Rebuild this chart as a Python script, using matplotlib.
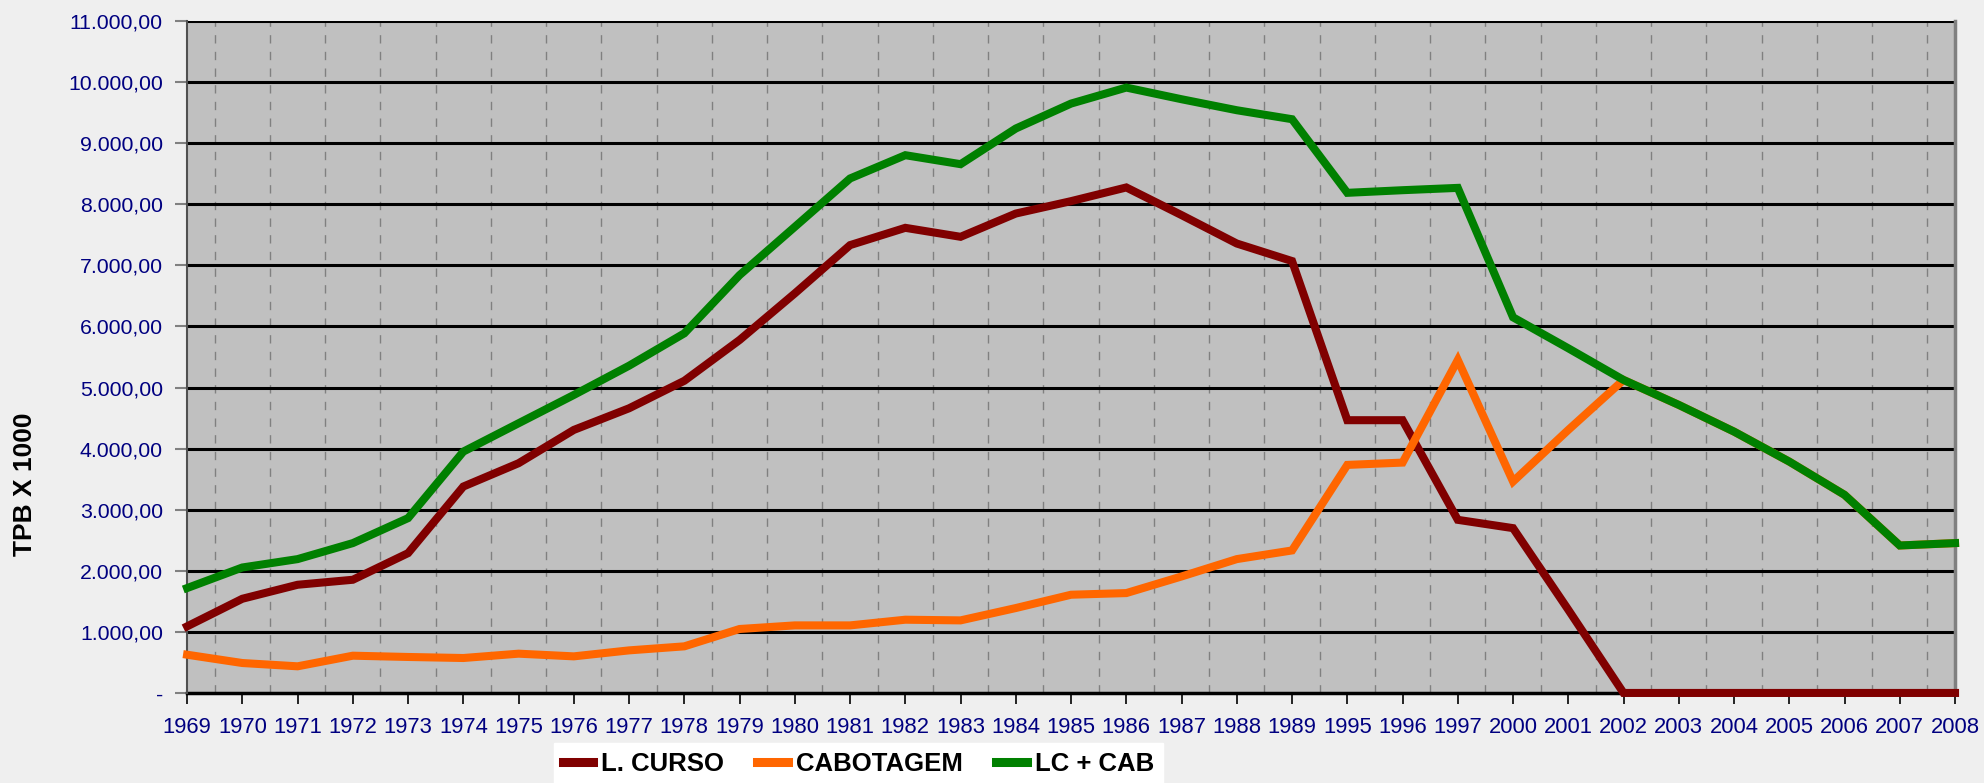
import numpy as np
from matplotlib import pyplot as plt
from matplotlib.ticker import FuncFormatter

years = ["1969", "1970", "1971", "1972", "1973", "1974", "1975", "1976", "1977",
         "1978", "1979", "1980", "1981", "1982", "1983", "1984", "1985", "1986",
         "1987", "1988", "1989", "1995", "1996", "1997", "2000", "2001", "2002",
         "2003", "2004", "2005", "2006", "2007", "2008"]

longo_curso = [1090, 1542, 1771, 1853, 2289, 3379, 3761, 4306, 4660,
               5110, 5778, 6541, 7331, 7614, 7467, 7848, 8051, 8275,
               7822, 7357, 7070, 4465, 4465, 2834, 2698, 1362, 0,
               0, 0, 0, 0, 0, 0]

cabotagem = [626, 490, 436, 610, 589, 572, 643, 599, 697,
             763, 1047, 1106, 1106, 1199, 1188, 1390, 1608, 1635,
             1907, 2191, 2333, 3733, 3771, 5451, 3461, 4306, 5124,
             4715, 4278, 3787, 3243, 2414, 2453]

lc_cab = [1717, 2054, 2191, 2453, 2862, 3951, 4415, 4878, 5357,
          5887, 6840, 7630, 8422, 8803, 8656, 9240, 9648, 9910,
          9719, 9539, 9392, 8187, 8230, 8268, 6149, 5642, 5124,
          4715, 4278, 3787, 3243, 2414, 2453]

series = [("L. CURSO", longo_curso, "#800000"),
          ("CABOTAGEM", cabotagem, "#ff6600"),
          ("LC + CAB", lc_cab, "#008000")]

plt.rcParams['font.family'] = ['Liberation Sans', 'DejaVu Sans']

fig = plt.figure(figsize=(19.84, 7.83), dpi=100)
fig.patch.set_facecolor("#efefef")
ax = fig.add_axes([0.0943, 0.115, 0.8911, 0.8582])
ax.set_facecolor("#c0c0c0")

x = np.arange(len(years))
for name, vals, col in series:
    ax.plot(x, vals, color=col, lw=5.8, label=name, solid_joinstyle="miter",
            clip_on=False, zorder=3)

ax.set_xlim(0, len(years) - 1)
ax.set_ylim(0, 11000)
ax.set_yticks(np.arange(0, 11001, 1000))
ax.set_xticks(x)
ax.set_xticklabels(years)


def fmt(v, pos):
    if v == 0:
        return "-"
    s = f"{v:,.2f}"
    return s.replace(",", "X").replace(".", ",").replace("X", ".")


ax.yaxis.set_major_formatter(FuncFormatter(fmt))

# gridlines: solid black horizontals, dashed grey verticals between categories
for v in np.arange(1000, 11001, 1000):
    ax.axhline(v, color="black", lw=2.2, zorder=2)
ax.axhline(0, color="black", lw=2.5, zorder=2, clip_on=False)
for xm in x[:-1] + 0.5:
    ax.axvline(xm, color="#808080", lw=1.0, ls=(0, (6, 6)), zorder=1)

ax.tick_params(axis="x", colors="black", labelcolor="#000080", labelsize=15.8,
               length=8, width=1.2, pad=9, direction="out")
ax.tick_params(axis="y", colors="#808080", labelcolor="#000080", labelsize=15.3,
               length=8.5, width=1.5, pad=9, direction="out")

for side in ["top", "bottom"]:
    ax.spines[side].set_visible(False)
ax.spines["left"].set_color("#505050")
ax.spines["left"].set_linewidth(1.5)
ax.spines["right"].set_color("#808080")
ax.spines["right"].set_linewidth(2.5)

ax.set_ylabel("TPB X 1000", fontsize=19, fontweight="bold", color="black")
ax.yaxis.set_label_coords(-0.0848, 0.311)

leg = fig.legend(loc="upper left", bbox_to_anchor=(0.279, 0.051), ncol=3,
                 frameon=True, fancybox=False, framealpha=1.0,
                 prop={"size": 18.5, "weight": "bold"}, handlelength=1.2,
                 handletextpad=0.3, columnspacing=1.3, borderpad=0.35,
                 borderaxespad=0)
leg.get_frame().set_facecolor("white")
leg.get_frame().set_edgecolor("white")
for line in leg.get_lines():
    line.set_linewidth(6.5)

fig.savefig("out.png", dpi=100, facecolor=fig.get_facecolor())
